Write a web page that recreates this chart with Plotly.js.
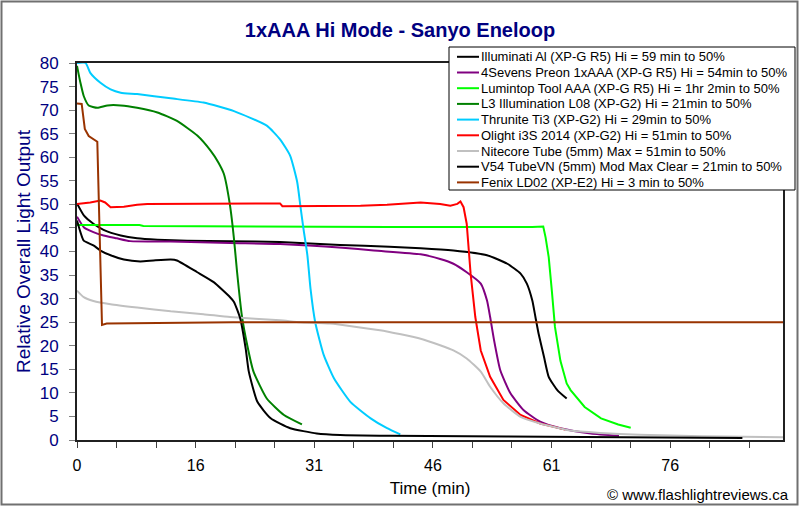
<!DOCTYPE html>
<html>
<head>
<meta charset="utf-8">
<script src="https://cdn.plot.ly/plotly-3.0.1.min.js"></script>
<style>
  html, body { margin: 0; padding: 0; background: #ffffff; }
  #chart { width: 800px; height: 507px; }
</style>
</head>
<body>
<div id="chart"></div>
<script>
// ---------------- DATA ----------------
const SERIES_NAMES = [
  "Illuminati Al (XP-G R5) Hi = 59 min to 50%",
  "4Sevens Preon 1xAAA (XP-G R5) Hi = 54min to 50%",
  "Lumintop Tool AAA (XP-G R5) Hi = 1hr 2min to 50%",
  "L3 Illumination L08 (XP-G2) Hi = 21min to 50%",
  "Thrunite Ti3 (XP-G2) Hi = 29min to 50%",
  "Olight i3S 2014 (XP-G2) Hi = 51min to 50%",
  "Nitecore Tube (5mm) Max = 51min to 50%",
  "V54 TubeVN (5mm) Mod Max Clear = 21min to 50%",
  "Fenix LD02 (XP-E2) Hi = 3 min to 50%"
];
const SERIES_COLORS = ["#000000", "#800080", "#00FF00", "#008000", "#00CCFF",
                       "#FF0000", "#C0C0C0", "#000000", "#993300"];
const SERIES_SMOOTH = [true, true, false, true, true, false, true, true, false];

// time in minutes, output in relative units
const T_ILLUMINATI = [0, 0.9, 2.1, 3.4, 5.6, 7.7, 10.3, 14.1, 19.6, 26, 33.7, 40, 44, 48.2, 52.5, 55.1, 56.8, 57.6, 58.3, 58.7, 59.1, 59.8, 60.4, 61.5, 62.7];
const V_ILLUMINATI = [50.2, 47.6, 45.9, 44.6, 43.4, 42.8, 42.5, 42.3, 42.2, 42.0, 41.4, 41.0, 40.7, 40.2, 39.2, 37.4, 35.3, 33.2, 29.6, 26.1, 22.6, 17.6, 13.4, 10.6, 8.8];

const T_PREON = [0, 0.9, 2.1, 3.4, 5.1, 6.8, 12, 19.6, 26, 34, 38, 44, 46.5, 48.2, 49.9, 51.7, 52.5, 52.9, 53.4, 54.2, 55.5, 57.2, 59.3, 61.9, 65.8, 69.4];
const V_PREON = [47.4, 45.1, 44.1, 43.4, 42.8, 42.2, 42.1, 41.8, 41.6, 40.8, 40.2, 39.4, 38.4, 37.4, 35.6, 33.2, 29.6, 26.1, 21.2, 14.8, 9.9, 6.3, 3.9, 2.5, 1.4, 0.9];

const T_LUMINTOP = [0, 8, 8.5, 20, 40, 58.3, 59.7, 60.0, 60.4, 60.8, 61.2, 61.9, 62.7, 63.2, 65.0, 67.1, 69.3, 70.9];
const V_LUMINTOP = [45.6, 45.6, 45.4, 45.3, 45.2, 45.2, 45.3, 43.0, 38.8, 31.7, 24.0, 16.8, 12.0, 10.6, 7.0, 4.6, 3.3, 2.6];

const T_L3 = [0, 0.44, 0.86, 1.5, 2.6, 3.9, 5.6, 7.7, 10.3, 12.8, 15.4, 17.1, 18.1, 18.8, 19.6, 20.1, 20.5, 21.1, 21.8, 22.6, 24.3, 26.5, 28.8];
const V_L3 = [79.4, 75.8, 73.0, 71.0, 70.5, 71.0, 71.0, 70.5, 69.5, 67.7, 64.6, 61.4, 58.9, 56.5, 49.7, 42.7, 35.6, 26.5, 20.1, 14.5, 8.8, 5.3, 3.3];

const T_THRUNITE = [0, 1.1, 1.7, 3.0, 4.3, 5.6, 7.7, 12.0, 16.2, 20.1, 24.3, 26.0, 27.3, 28.2, 28.6, 29.0, 29.5, 29.9, 30.5, 31.6, 32.9, 35.0, 37.6, 39.7, 41.4];
const V_THRUNITE = [80, 80, 77.9, 75.8, 74.4, 73.7, 73.4, 72.5, 71.6, 69.8, 66.7, 63.8, 60.3, 54.7, 49.7, 44.8, 39.2, 32.1, 25.0, 18.0, 13.1, 8.1, 4.6, 2.5, 1.2];

const T_OLIGHT = [0, 1.7, 3.0, 3.6, 4.3, 6.0, 7.7, 9.0, 26.0, 26.3, 36.3, 39.7, 44.0, 46.5, 47.8, 48.7, 49.1, 49.5, 49.9, 50.4, 51.0, 51.7, 52.9, 54.6, 56.8, 59.3, 62.5];
const V_OLIGHT = [50.1, 50.4, 50.8, 50.4, 49.4, 49.5, 49.9, 50.1, 50.2, 49.6, 49.7, 49.9, 50.4, 50.1, 49.7, 50.1, 50.6, 49.4, 45.9, 35.3, 26.1, 19.0, 13.4, 8.5, 5.3, 3.5, 2.2];

const T_NITECORE = [0, 0.86, 2.1, 4.3, 7.7, 12.0, 16.2, 19.6, 26.0, 28.6, 32.4, 38.8, 44.0, 46.5, 48.2, 49.9, 51.7, 52.9, 54.6, 56.8, 59.3, 63.2, 67, 72, 80, 90.4];
const V_NITECORE = [31.7, 30.3, 29.5, 28.8, 28.1, 27.3, 26.7, 26.1, 25.4, 25.0, 24.7, 23.3, 21.5, 20.1, 19.0, 17.3, 14.5, 11.3, 7.8, 4.9, 3.5, 2.0, 1.5, 1.1, 0.8, 0.6];

const T_V54 = [0, 0.44, 0.86, 2.1, 3.0, 4.3, 6.0, 8.1, 9.8, 12.0, 12.8, 15.4, 17.5, 19.6, 20.1, 20.9, 21.6, 22.0, 23.1, 24.8, 27.3, 30.7, 33.7, 40, 50, 60, 70, 80, 85.2];
const V_V54 = [46.6, 44.1, 42.3, 41.3, 40.2, 39.2, 38.3, 37.9, 38.1, 38.3, 38.1, 35.6, 33.5, 30.3, 29.3, 25.8, 19.4, 14.5, 8.1, 4.6, 2.5, 1.4, 1.06, 0.9, 0.8, 0.7, 0.6, 0.5, 0.4];

const T_FENIX = [0, 0.6, 1.0, 1.5, 2.6, 3.2, 3.8, 12, 20, 90.4];
const V_FENIX = [71.4, 71.3, 66.0, 64.5, 63.3, 24.4, 24.7, 24.9, 25.0, 25.0];

const X_TICK_LABELS = ["0", "16", "31", "46", "61", "76"];
const X_TICK_STEP = 15.19;   // minutes between labelled ticks
const X_MAX = 90.4;
const Y_MAX = 80;

// ---------------- CHART ----------------
const SERIES_T = [T_ILLUMINATI, T_PREON, T_LUMINTOP, T_L3, T_THRUNITE, T_OLIGHT, T_NITECORE, T_V54, T_FENIX];
const SERIES_V = [V_ILLUMINATI, V_PREON, V_LUMINTOP, V_L3, V_THRUNITE, V_OLIGHT, V_NITECORE, V_V54, V_FENIX];

const traces = SERIES_NAMES.map((name, i) => ({
  type: "scatter",
  mode: "lines",
  name: name,
  x: SERIES_T[i],
  y: SERIES_V[i],
  line: SERIES_SMOOTH[i]
    ? { color: SERIES_COLORS[i], width: 2, shape: "spline", smoothing: 0.5 }
    : { color: SERIES_COLORS[i], width: 2 },
  showlegend: false,
  hoverinfo: "skip"
}));

// plot-area geometry in pixels (for paper-coordinate helpers)
const W = 800, H = 507;
const M = { l: 77, r: 17, t: 63, b: 67 };
const PW = W - M.l - M.r, PH = H - M.t - M.b;
const px = p => (p - M.l) / PW;
const py = p => (H - M.b - p) / PH;

const FONT = "Liberation Sans, Arial, Helvetica, sans-serif";

// hand-built legend (Excel style, compact rows)
const LEG = { x0: 449, x1: 795, y0: 47, y1: 190, row0: 56.8, dy: 15.7, lx0: 457, lx1: 479, tx: 479 };
const shapes = [
  { type: "rect", xref: "paper", yref: "paper", x0: px(LEG.x0), x1: px(LEG.x1), y0: py(LEG.y1), y1: py(LEG.y0),
    fillcolor: "#ffffff", line: { color: "#000000", width: 1 }, layer: "above" },
  { type: "rect", xref: "paper", yref: "paper", x0: px(1.5), x1: px(797.5), y0: py(504.5), y1: py(1.5),
    fillcolor: "rgba(0,0,0,0)", line: { color: "#707070", width: 2 }, layer: "above" }
];
const annotations = [];
SERIES_NAMES.forEach((name, i) => {
  const yy = LEG.row0 + i * LEG.dy;
  shapes.push({ type: "line", xref: "paper", yref: "paper", x0: px(LEG.lx0), x1: px(LEG.lx1), y0: py(yy), y1: py(yy),
    line: { color: SERIES_COLORS[i], width: 2 }, layer: "above" });
  annotations.push({ xref: "paper", yref: "paper", x: px(LEG.tx), y: py(yy), xanchor: "left", yanchor: "middle",
    text: name, showarrow: false, font: { family: FONT, size: 13, color: "#000000" } });
});
annotations.push({ xref: "paper", yref: "paper", x: px(791), y: py(494), xanchor: "right", yanchor: "middle",
  text: "© www.flashlightreviews.ca", showarrow: false, font: { family: FONT, size: 15, color: "#000000" } });

const layout = {
  width: W, height: H,
  margin: M,
  paper_bgcolor: "#ffffff",
  plot_bgcolor: "#ffffff",
  font: { family: FONT },
  title: {
    text: "<b>1xAAA Hi Mode - Sanyo Eneloop</b>",
    x: 0.5, xref: "container", xanchor: "center",
    y: 1 - 30 / H, yref: "container", yanchor: "middle",
    font: { family: FONT, size: 20, color: "#000080" }
  },
  xaxis: {
    range: [0, X_MAX],
    tickmode: "array",
    tickvals: X_TICK_LABELS.map((_, i) => i * X_TICK_STEP),
    ticktext: X_TICK_LABELS,
    ticks: "outside", ticklen: 6, tickwidth: 1, tickcolor: "#404040",
    ticklabelstandoff: 4,
    minor: { tickmode: "linear", tick0: 0, dtick: X_TICK_STEP / 3, ticks: "outside", ticklen: 6, tickwidth: 1, tickcolor: "#404040", showgrid: false },
    showgrid: false, zeroline: false,
    showline: true, mirror: true, linecolor: "#202020", linewidth: 2,
    tickfont: { family: FONT, size: 16, color: "#000000" },
    title: { text: "Time (min)", font: { family: FONT, size: 17, color: "#000000" }, standoff: 9 },
    fixedrange: true
  },
  yaxis: {
    range: [0, Y_MAX],
    tickmode: "linear", tick0: 0, dtick: 5,
    ticks: "outside", ticklen: 6, tickwidth: 1, tickcolor: "#808080",
    ticklabelstandoff: 7,
    showgrid: false, zeroline: false,
    showline: true, mirror: true, linecolor: "#202020", linewidth: 2,
    tickfont: { family: FONT, size: 17, color: "#000080" },
    title: { text: "Relative Overall Light Output", font: { family: FONT, size: 19, color: "#000080" }, standoff: 4 },
    fixedrange: true
  },
  shapes: shapes,
  annotations: annotations,
  showlegend: false
};

Plotly.newPlot("chart", traces, layout, { displayModeBar: false, staticPlot: true });
</script>
</body>
</html>
